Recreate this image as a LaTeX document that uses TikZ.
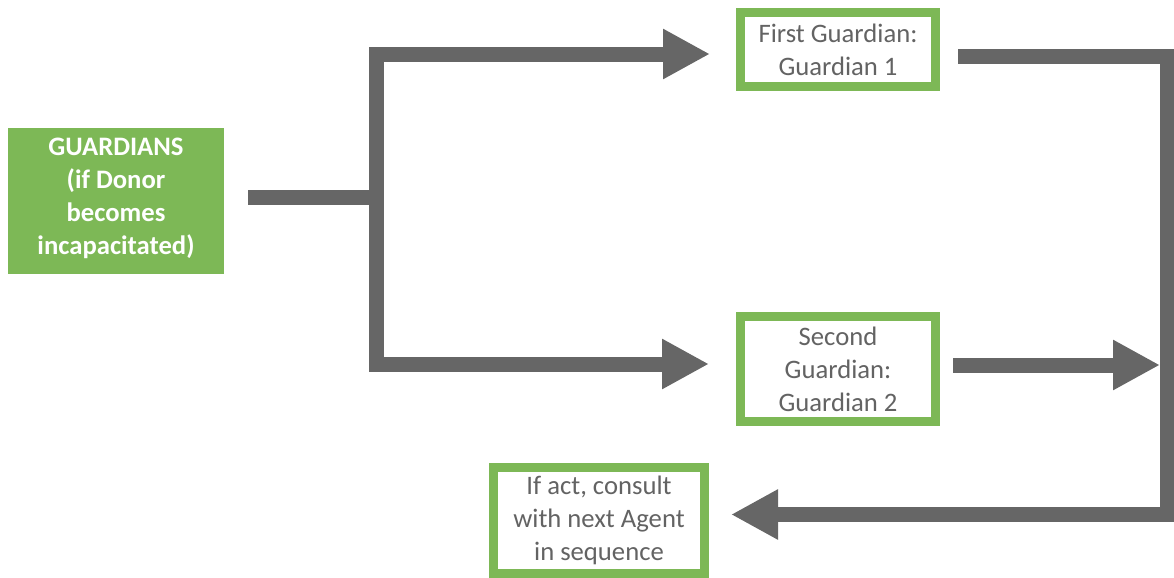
\documentclass[tikz,border=0pt]{standalone}
\usepackage{fontspec}
\setmainfont{Carlito}
\usetikzlibrary{arrows.meta,calc}
\definecolor{leafgreen}{RGB}{125,184,86}
\definecolor{bargray}{RGB}{102,102,102}
\definecolor{textgray}{RGB}{99,99,99}
\begin{document}
\begin{tikzpicture}[x=0.75pt,y=-0.75pt,
  every node/.style={font=\fontsize{20}{24.75}\selectfont, align=center, inner sep=0pt},
  headbox/.style={fill=leafgreen, text=white, font=\fontsize{20}{24.75}\selectfont\bfseries,
    minimum width=162pt, minimum height=109.5pt},
  stagebox/.style={draw=leafgreen, line width=6.75pt, text=textgray, fill=white},
  bar/.style={draw=bargray, line width=11.25pt, line join=miter},
  flow/.style={bar, -{Triangle[length=35.25pt,width=35.25pt]}}
]
\useasboundingbox (0,0) rectangle (1174,578);

% boxes
\node[headbox] (src) at (116,201) {GUARDIANS\\(if Donor\\becomes\\incapacitated)\\[-18pt]};
\node[stagebox, minimum width=146.25pt, minimum height=55.5pt] (g1) at (838,49.5)
  {First Guardian:\\Guardian 1};
\node[stagebox, minimum width=146.25pt, minimum height=78.75pt] (g2) at (838,369)
  {Second\\Guardian:\\Guardian 2};
\node[stagebox, minimum width=158.25pt, minimum height=79.5pt] (nxt) at (599,520.5)
  {If act, consult\\with next Agent\\in sequence};

% junctions
\coordinate (split) at (376,197.5);
\coordinate (rt) at (1167,56.5);
\coordinate (merge) at (1160,365);

% connectors
\draw[bar] ($(src.east)+(24,-3.5)$) -- (split);
\draw[flow] ($(split)+(0,8)$) |- ($(g1.west)+(-26,4.5)$);
\draw[flow] ($(split)+(0,-8)$) |- ($(g2.west)+(-27,-5)$);
\draw[flow] ($(g1.east)+(18,7)$) -- (rt) |- ($(nxt.east)+(22,-6)$);
\draw[flow] ($(g2.east)+(13,-4)$) -- (merge);
\end{tikzpicture}
\end{document}
